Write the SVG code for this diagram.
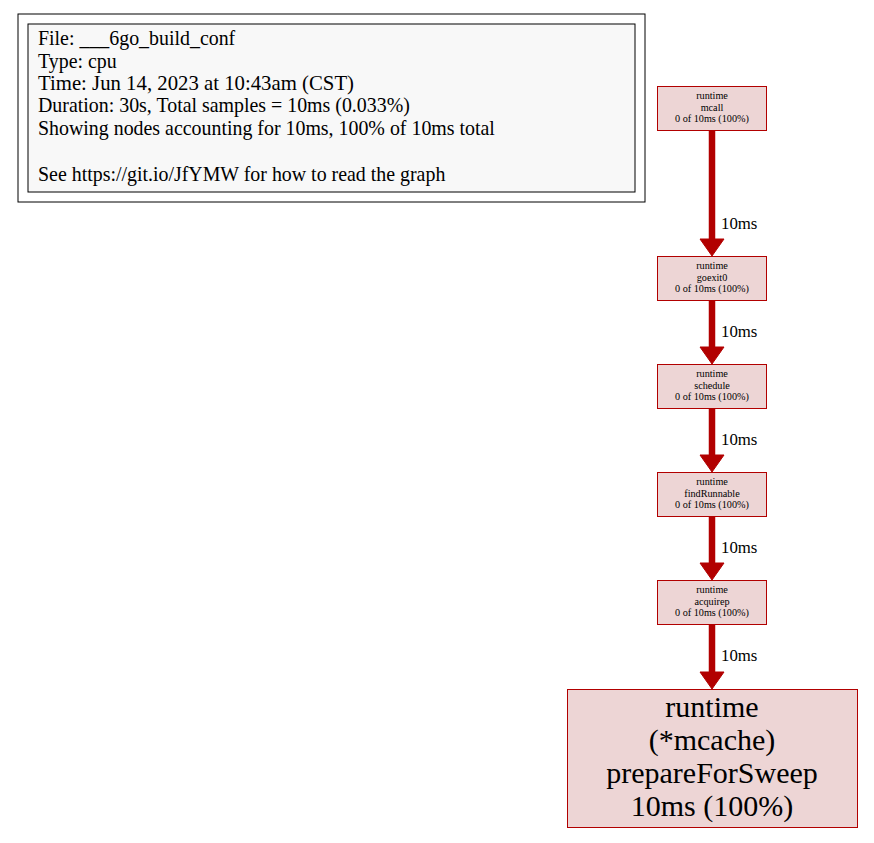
<svg xmlns="http://www.w3.org/2000/svg" width="874" height="843" viewBox="0 0 874 843">
<style>
.legend text{font-family:"Liberation Serif",serif;font-size:19.9px;fill:#000}
.node rect{fill:#edd5d5;stroke:#b20000;stroke-width:1}
.node text{font-family:"Liberation Serif",serif;text-anchor:middle;fill:#000}
.small text{font-size:10.2px}
.big text{font-size:30px}
.edges line{stroke:#b20000;stroke-width:6.5}
.edges polygon{fill:#b20000;stroke:#b20000;stroke-width:1}
.edges text{font-family:"Liberation Serif",serif;font-size:16.8px;fill:#000}
</style>
<rect width="874" height="843" fill="#fff"/>
<g id="legend" class="legend">
<rect x="18" y="14" width="627" height="188" fill="none" stroke="#000" stroke-width="1"/>
<rect x="28" y="24" width="607" height="168" fill="#f8f8f8" stroke="#000" stroke-width="1"/>
<text x="38" y="45">File: ___6go_build_conf</text>
<text x="38" y="67.5">Type: cpu</text>
<text x="38" y="90" textLength="316" lengthAdjust="spacingAndGlyphs">Time: Jun 14, 2023 at 10:43am (CST)</text>
<text x="38" y="112">Duration: 30s, Total samples = 10ms (0.033%)</text>
<text x="38" y="134.5">Showing nodes accounting for 10ms, 100% of 10ms total</text>
<text x="38" y="181">See https://git.io/JfYMW for how to read the graph</text>
</g>
<g id="edges" class="edges">
<line x1="712" y1="130" x2="712" y2="241"/>
<polygon points="700,239 724,239 712,256"/>
<text x="721" y="229">10ms</text>
<line x1="712" y1="300" x2="712" y2="349"/>
<polygon points="700,347 724,347 712,364"/>
<text x="721" y="337">10ms</text>
<line x1="712" y1="408" x2="712" y2="457"/>
<polygon points="700,455 724,455 712,472"/>
<text x="721" y="445">10ms</text>
<line x1="712" y1="516" x2="712" y2="565"/>
<polygon points="700,563 724,563 712,580"/>
<text x="721" y="553">10ms</text>
<line x1="712" y1="624" x2="712" y2="674"/>
<polygon points="700,672 724,672 712,689"/>
<text x="721" y="661">10ms</text>
</g>
<g id="node-mcall" class="node small">
<rect x="657.5" y="86.5" width="109" height="44"/>
<text x="712" y="99">runtime</text>
<text x="712" y="110.5">mcall</text>
<text x="712" y="122">0 of 10ms (100%)</text>
</g>
<g id="node-goexit0" class="node small">
<rect x="657.5" y="256.5" width="109" height="44"/>
<text x="712" y="269">runtime</text>
<text x="712" y="280.5">goexit0</text>
<text x="712" y="292">0 of 10ms (100%)</text>
</g>
<g id="node-schedule" class="node small">
<rect x="657.5" y="364.5" width="109" height="44"/>
<text x="712" y="377">runtime</text>
<text x="712" y="388.5">schedule</text>
<text x="712" y="400">0 of 10ms (100%)</text>
</g>
<g id="node-findRunnable" class="node small">
<rect x="657.5" y="472.5" width="109" height="44"/>
<text x="712" y="485">runtime</text>
<text x="712" y="496.5">findRunnable</text>
<text x="712" y="508">0 of 10ms (100%)</text>
</g>
<g id="node-acquirep" class="node small">
<rect x="657.5" y="580.5" width="109" height="44"/>
<text x="712" y="593">runtime</text>
<text x="712" y="604.5">acquirep</text>
<text x="712" y="616">0 of 10ms (100%)</text>
</g>
<g id="node-prepareForSweep" class="node big">
<rect x="567.5" y="689.5" width="290" height="138"/>
<text x="712" y="717">runtime</text>
<text x="712" y="750">(*mcache)</text>
<text x="712" y="783">prepareForSweep</text>
<text x="712" y="816">10ms (100%)</text>
</g>
</svg>
